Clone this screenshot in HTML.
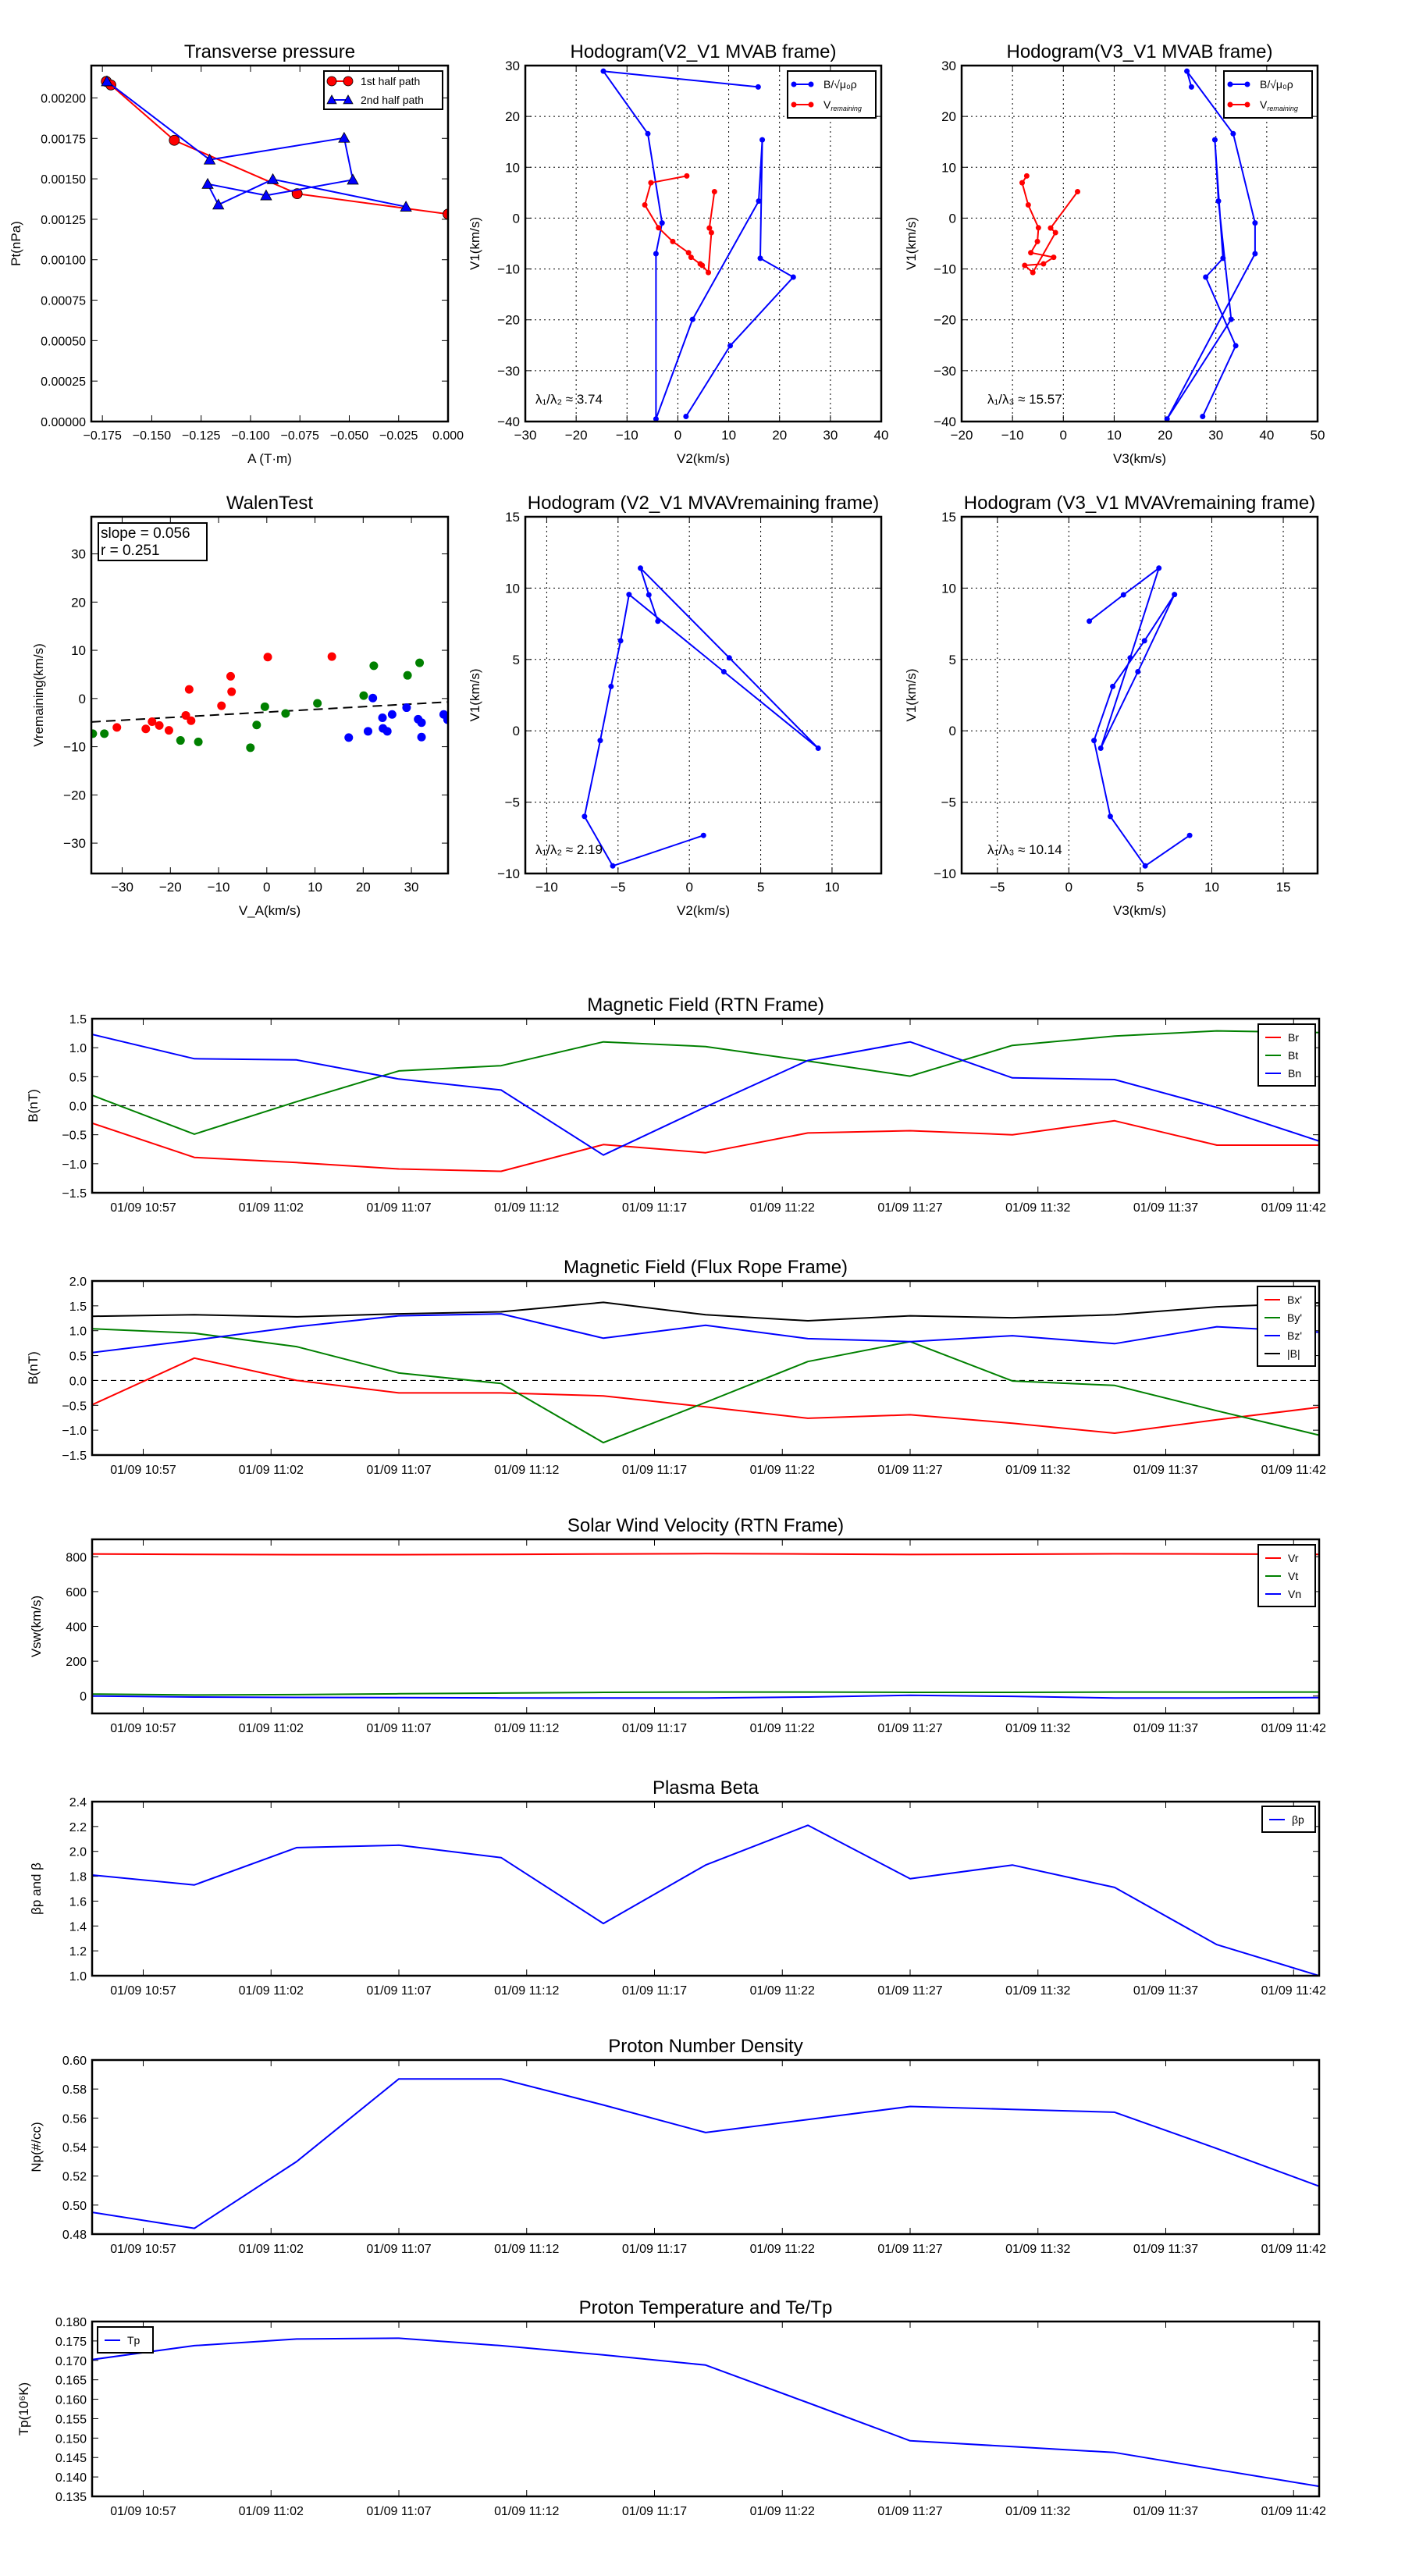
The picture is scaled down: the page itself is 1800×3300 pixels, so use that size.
<!DOCTYPE html>
<html><head><meta charset="utf-8"><style>
html,body{margin:0;padding:0;background:#fff;}
svg{display:block;}
</style></head><body>
<svg id="chart" width="1800" height="3300" xmlns="http://www.w3.org/2000/svg" font-family="'Liberation Sans', 'DejaVu Sans', sans-serif"></svg>
<script>
// ---------- data ----------
const presA1 = [-0.1730, -0.1707, -0.1386, -0.0764, 0.0];
const presP1 = [0.002102, 0.002080, 0.001738, 0.001408, 0.001282];
const presA2 = [-0.1727, -0.1207, -0.0526, -0.0482, -0.0921, -0.1217, -0.1163, -0.0887, -0.0213];
const presP2 = [0.002102, 0.001618, 0.001753, 0.001494, 0.001397, 0.001468, 0.001340, 0.001497, 0.001327];

const mvabV1B = [25.8, 28.9, 16.6, -0.95, -7.0, -39.5, -19.9, 3.35, 15.4, -7.9, -11.6, -25.1, -39.0];
const mvabV2B = [15.8, -14.65, -5.9, -3.1, -4.3, -4.3, 2.9, 15.9, 16.6, 16.2, 22.7, 10.3, 1.6];
const mvabV3B = [25.2, 24.3, 33.4, 37.7, 37.7, 20.4, 33.0, 30.5, 29.8, 31.4, 28.0, 33.9, 27.4];
const mvabV1R = [8.3, 6.95, 2.6, -1.9, -4.6, -6.8, -7.7, -9.0, -9.3, -10.7, -2.85, -1.95, 5.2];
const mvabV2R = [1.76, -5.3, -6.5, -3.8, -1.0, 2.1, 2.6, 4.4, 4.8, 6.0, 6.6, 6.2, 7.2];
const mvabV3R = [-7.2, -8.1, -6.9, -4.9, -5.1, -6.4, -1.9, -3.9, -7.6, -6.0, -1.55, -2.5, 2.8];

const mvavV1 = [7.68, 9.53, 11.4, 5.11, -1.22, 4.14, 9.55, 6.31, 3.11, -0.68, -6.0, -9.47, -7.33];
const mvavV2 = [-2.21, -2.84, -3.43, 2.80, 9.03, 2.42, -4.23, -4.82, -5.49, -6.25, -7.35, -5.37, 0.99];
const mvavV3 = [1.43, 3.82, 6.30, 4.29, 2.23, 4.83, 7.39, 5.29, 3.07, 1.76, 2.90, 5.34, 8.45];

const walRedX = [-31.1, -25.1, -23.8, -22.3, -20.3, -16.8, -16.1, -15.7, -9.4, -7.5, -7.3, 0.2, 13.5];
const walRedY = [-6.0, -6.3, -4.8, -5.6, -6.6, -3.5, 1.9, -4.6, -1.5, 4.6, 1.4, 8.6, 8.7];
const walGreenX = [-36.1, -33.7, -17.9, -14.2, -3.4, -2.1, -0.4, 3.9, 10.5, 20.1, 22.2, 29.2, 31.7];
const walGreenY = [-7.3, -7.3, -8.7, -9.0, -10.2, -5.5, -1.7, -3.1, -1.0, 0.6, 6.8, 4.8, 7.4];
const walBlueX = [17.0, 21.0, 22.0, 24.0, 24.1, 25.0, 26.0, 29.0, 31.4, 32.1, 32.1, 36.7, 37.5];
const walBlueY = [-8.1, -6.8, 0.1, -4.0, -6.2, -6.8, -3.3, -1.9, -4.3, -5.0, -8.0, -3.3, -4.4];
const walFit = [0.056, -2.82];

const times = ["10:55","10:59","11:03","11:07","11:11","11:15","11:19","11:23","11:27","11:31","11:35","11:39","11:43"];
const timeTicks = ["10:57","11:02","11:07","11:12","11:17","11:22","11:27","11:32","11:37","11:42"];

const Br = [-0.30, -0.89, -0.98, -1.09, -1.13, -0.67, -0.81, -0.47, -0.43, -0.50, -0.26, -0.68, -0.68];
const Bt = [0.18, -0.49, 0.07, 0.60, 0.69, 1.10, 1.02, 0.77, 0.51, 1.04, 1.20, 1.29, 1.26];
const Bn = [1.23, 0.81, 0.79, 0.46, 0.27, -0.85, -0.02, 0.78, 1.10, 0.48, 0.45, -0.03, -0.61];

const Bxp = [-0.49, 0.45, 0.0, -0.25, -0.25, -0.31, -0.53, -0.76, -0.69, -0.86, -1.06, -0.79, -0.54];
const Byp = [1.04, 0.95, 0.68, 0.15, -0.06, -1.25, -0.44, 0.38, 0.78, -0.01, -0.10, -0.61, -1.10];
const Bzp = [0.56, 0.81, 1.08, 1.30, 1.34, 0.85, 1.11, 0.84, 0.78, 0.90, 0.74, 1.08, 0.97];
const Bmag = [1.29, 1.32, 1.28, 1.34, 1.38, 1.57, 1.32, 1.20, 1.30, 1.26, 1.32, 1.48, 1.56];

const Vr = [816, 814, 812, 812, 814, 816, 818, 816, 813, 815, 817, 816, 814];
const Vt = [11, 6, 8, 13, 17, 21, 23, 23, 21, 21, 23, 23, 23];
const Vn = [0, -6, -8, -9, -11, -11, -11, -6, 4, -2, -11, -11, -9];

const betaP = [1.81, 1.73, 2.03, 2.05, 1.95, 1.42, 1.89, 2.21, 1.78, 1.89, 1.71, 1.25, 1.0];
const Np = [0.495, 0.484, 0.530, 0.587, 0.587, 0.569, 0.550, 0.559, 0.568, 0.566, 0.564, 0.539, 0.513];
const Tp = [0.1702, 0.1738, 0.1755, 0.1757, 0.1738, 0.1714, 0.1688, 0.1591, 0.1493, 0.1478, 0.1463, 0.1419, 0.1376];

// ---------- helpers ----------
const NS = "http://www.w3.org/2000/svg";
const svg = document.getElementById('chart');
let clipId = 0;
function mk(tag, name, attrs, parent) {
  const e = document.createElementNS(NS, tag);
  
  
  for (const k in attrs) e.setAttribute(k, attrs[k]);
  (parent || svg).appendChild(e);
  return e;
}
function txt(name, s, x, y, size, anchor, parent, rot) {
  const t = mk('text', name, {x: x, y: y, 'font-size': size, 'text-anchor': anchor || 'middle', fill: '#000'}, parent);
  if (rot) t.setAttribute('transform', 'rotate(' + rot + ' ' + x + ' ' + y + ')');
  t.textContent = s;
  return t;
}
function fmtMinus(s) { return String(s).replace(/-/g, '\u2212'); }
function toMin(s) { const p = s.split(':'); return (+p[0]) * 60 + (+p[1]) - (10 * 60 + 55); }

function axes(o) {
  const sx = v => o.x0 + (v - o.xd[0]) / (o.xd[1] - o.xd[0]) * (o.x1 - o.x0);
  const sy = v => o.y1 - (v - o.yd[0]) / (o.yd[1] - o.yd[0]) * (o.y1 - o.y0);
  const g = mk('g', o.name, {});
  const id = 'clip' + (clipId++);
  const cp = mk('clipPath', o.name + '-clip', {id: id}, g);
  mk('rect', o.name + '-clip-rect', {x: o.x0, y: o.y0, width: o.x1 - o.x0, height: o.y1 - o.y0}, cp);
  const fs = o.fs || 17;
  if (o.grid) {
    o.xticks.forEach(v => mk('line', 'x-grid-line', {x1: sx(v), x2: sx(v), y1: o.y0, y2: o.y1, stroke: '#000', 'stroke-width': 1, 'stroke-dasharray': '2,4'}, g));
    o.yticks.forEach(v => mk('line', 'y-grid-line', {x1: o.x0, x2: o.x1, y1: sy(v), y2: sy(v), stroke: '#000', 'stroke-width': 1, 'stroke-dasharray': '2,4'}, g));
  }
  o.xticks.forEach((v, i) => {
    const X = sx(v);
    mk('line', 'x-tick', {x1: X, x2: X, y1: o.y1, y2: o.y1 - 8, stroke: '#000', 'stroke-width': 1}, g);
    mk('line', 'x-tick-top', {x1: X, x2: X, y1: o.y0, y2: o.y0 + 8, stroke: '#000', 'stroke-width': 1}, g);
    txt('x-tick-label', o.xlabels[i], X, o.y1 + (o.xlOff || 23), fs, 'middle', g);
  });
  o.yticks.forEach((v, i) => {
    const Y = sy(v);
    mk('line', 'y-tick', {x1: o.x0, x2: o.x0 + 8, y1: Y, y2: Y, stroke: '#000', 'stroke-width': 1}, g);
    mk('line', 'y-tick-right', {x1: o.x1, x2: o.x1 - 8, y1: Y, y2: Y, stroke: '#000', 'stroke-width': 1}, g);
    txt('y-tick-label', o.ylabels[i], o.x0 - 7, Y + 6, fs, 'end', g);
  });
  if (o.title) txt('chart-title', o.title, (o.x0 + o.x1) / 2, o.y0 - 10, o.tfs || 24, 'middle', g);
  if (o.xlabel) txt('x-axis-title', o.xlabel, (o.x0 + o.x1) / 2, o.xlabY, 17, 'middle', g);
  if (o.ylabel) txt('y-axis-title', o.ylabel, o.ylabX, (o.y0 + o.y1) / 2, 17, 'middle', g, -90);
  const d = mk('g', o.name + '-data', {'clip-path': 'url(#' + id + ')'}, g);
  return {sx, sy, g, d, frame: () => mk('rect', o.name + '-frame', {x: o.x0, y: o.y0, width: o.x1 - o.x0, height: o.y1 - o.y0, fill: 'none', stroke: '#000', 'stroke-width': 2.5}, g)};
}
function polyline(ax, name, xs, ys, color, w, parent) {
  const pts = xs.map((x, i) => ax.sx(x).toFixed(1) + ',' + ax.sy(ys[i]).toFixed(1)).join(' ');
  return mk('polyline', name, {points: pts, fill: 'none', stroke: color, 'stroke-width': w || 2, 'stroke-linejoin': 'round'}, parent || ax.d);
}
function dots(ax, name, xs, ys, color, r, stroke) {
  xs.forEach((x, i) => {
    const c = mk('circle', name, {cx: ax.sx(x), cy: ax.sy(ys[i]), r: r, fill: color}, ax.d);
    if (stroke) { c.setAttribute('stroke', '#000'); c.setAttribute('stroke-width', 0.8); }
  });
}
function tri(parent, name, x, y, s, color) {
  return mk('polygon', name, {points: x + ',' + (y - s) + ' ' + (x - s) + ',' + (y + s * 0.8) + ' ' + (x + s) + ',' + (y + s * 0.8), fill: color, stroke: '#000', 'stroke-width': 0.8}, parent);
}

// ---------- Transverse pressure ----------
(function () {
  const ax = axes({name: 'transverse-pressure-chart', x0: 117, x1: 574, y0: 84, y1: 540, xd: [-0.1806, 0], yd: [0, 0.0022],
    xticks: [-0.175, -0.15, -0.125, -0.1, -0.075, -0.05, -0.025, 0], xlabels: ['−0.175','−0.150','−0.125','−0.100','−0.075','−0.050','−0.025','0.000'],
    yticks: [0, 0.00025, 0.0005, 0.00075, 0.001, 0.00125, 0.0015, 0.00175, 0.002], ylabels: ['0.00000','0.00025','0.00050','0.00075','0.00100','0.00125','0.00150','0.00175','0.00200'],
    title: 'Transverse pressure', xlabel: 'A (T·m)', xlabY: 593, ylabel: 'Pt(nPa)', ylabX: 26, fs: 16});
  polyline(ax, 'first-half-path-line', presA1, presP1, '#ff0000', 2);
  dots(ax, 'first-half-path-point', presA1, presP1, '#ff0000', 6.5, true);
  polyline(ax, 'second-half-path-line', presA2, presP2, '#0000ff', 2);
  presA2.forEach((a, i) => tri(ax.d, 'second-half-path-point', ax.sx(a), ax.sy(presP2[i]), 7, '#0000ff'));
  ax.frame();
  const lg = mk('g', 'pressure-legend', {});
  mk('rect', 'legend-box', {x: 415, y: 91, width: 152, height: 49, fill: '#fff', stroke: '#000', 'stroke-width': 2}, lg);
  mk('line', 'legend-line-red', {x1: 425, x2: 446, y1: 104, y2: 104, stroke: '#f00', 'stroke-width': 2}, lg);
  mk('circle', 'legend-marker', {cx: 425, cy: 104, r: 6, fill: '#f00', stroke: '#000', 'stroke-width': 0.8}, lg);
  mk('circle', 'legend-marker', {cx: 446, cy: 104, r: 6, fill: '#f00', stroke: '#000', 'stroke-width': 0.8}, lg);
  txt('legend-entry', '1st half path', 462, 109, 14, 'start', lg);
  mk('line', 'legend-line-blue', {x1: 425, x2: 446, y1: 128, y2: 128, stroke: '#00f', 'stroke-width': 2}, lg);
  tri(lg, 'legend-marker', 425, 128, 6, '#00f');
  tri(lg, 'legend-marker', 446, 128, 6, '#00f');
  txt('legend-entry', '2nd half path', 462, 133, 14, 'start', lg);
})();

function hodoLegend(x, name) {
  const lg = mk('g', name, {});
  mk('rect', 'legend-box', {x: x, y: 91, width: 113, height: 60, fill: '#fff', stroke: '#000', 'stroke-width': 2}, lg);
  mk('line', 'legend-line-blue', {x1: x + 8, x2: x + 30, y1: 108, y2: 108, stroke: '#00f', 'stroke-width': 2}, lg);
  mk('circle', 'legend-marker', {cx: x + 8, cy: 108, r: 3.5, fill: '#00f'}, lg);
  mk('circle', 'legend-marker', {cx: x + 30, cy: 108, r: 3.5, fill: '#00f'}, lg);
  txt('legend-entry', 'B/√μ₀ρ', x + 46, 113, 14, 'start', lg);
  mk('line', 'legend-line-red', {x1: x + 8, x2: x + 30, y1: 134, y2: 134, stroke: '#f00', 'stroke-width': 2}, lg);
  mk('circle', 'legend-marker', {cx: x + 8, cy: 134, r: 3.5, fill: '#f00'}, lg);
  mk('circle', 'legend-marker', {cx: x + 30, cy: 134, r: 3.5, fill: '#f00'}, lg);
  const t = txt('legend-entry', 'V', x + 46, 139, 14, 'start', lg);
  const s = document.createElementNS(NS, 'tspan');
  s.setAttribute('font-size', 9); s.setAttribute('font-style', 'italic'); s.setAttribute('dy', 3);
  s.textContent = 'remaining'; t.appendChild(s);
}

// ---------- Hodogram MVAB V2 ----------
(function () {
  const ax = axes({name: 'hodogram-v2-v1-mvab', x0: 673, x1: 1129, y0: 84, y1: 540, xd: [-30, 40], yd: [-40, 30], grid: true,
    xticks: [-30,-20,-10,0,10,20,30,40], xlabels: ['−30','−20','−10','0','10','20','30','40'],
    yticks: [-40,-30,-20,-10,0,10,20,30], ylabels: ['−40','−30','−20','−10','0','10','20','30'],
    title: 'Hodogram(V2_V1 MVAB frame)', xlabel: 'V2(km/s)', xlabY: 593, ylabel: 'V1(km/s)', ylabX: 614});
  polyline(ax, 'b-series-line', mvabV2B, mvabV1B, '#0000ff', 2);
  dots(ax, 'b-series-point', mvabV2B, mvabV1B, '#0000ff', 3.5);
  polyline(ax, 'v-remaining-line', mvabV2R, mvabV1R, '#ff0000', 2);
  dots(ax, 'v-remaining-point', mvabV2R, mvabV1R, '#ff0000', 3.5);
  ax.frame();
  txt('eigenvalue-ratio', 'λ₁/λ₂ ≈ 3.74', 686, 517, 17, 'start');
  hodoLegend(1009, 'hodogram-mvab-v2-legend');
})();

// ---------- Hodogram MVAB V3 ----------
(function () {
  const ax = axes({name: 'hodogram-v3-v1-mvab', x0: 1232, x1: 1688, y0: 84, y1: 540, xd: [-20, 50], yd: [-40, 30], grid: true,
    xticks: [-20,-10,0,10,20,30,40,50], xlabels: ['−20','−10','0','10','20','30','40','50'],
    yticks: [-40,-30,-20,-10,0,10,20,30], ylabels: ['−40','−30','−20','−10','0','10','20','30'],
    title: 'Hodogram(V3_V1 MVAB frame)', xlabel: 'V3(km/s)', xlabY: 593, ylabel: 'V1(km/s)', ylabX: 1173});
  polyline(ax, 'b-series-line', mvabV3B, mvabV1B, '#0000ff', 2);
  dots(ax, 'b-series-point', mvabV3B, mvabV1B, '#0000ff', 3.5);
  polyline(ax, 'v-remaining-line', mvabV3R, mvabV1R, '#ff0000', 2);
  dots(ax, 'v-remaining-point', mvabV3R, mvabV1R, '#ff0000', 3.5);
  ax.frame();
  txt('eigenvalue-ratio', 'λ₁/λ₃ ≈ 15.57', 1265, 517, 17, 'start');
  hodoLegend(1568, 'hodogram-mvab-v3-legend');
})();

// ---------- Walen test ----------
(function () {
  const ax = axes({name: 'walen-test-chart', x0: 117, x1: 574, y0: 662, y1: 1119, xd: [-36.4, 37.6], yd: [-36.3, 37.7],
    xticks: [-30,-20,-10,0,10,20,30], xlabels: ['−30','−20','−10','0','10','20','30'],
    yticks: [-30,-20,-10,0,10,20,30], ylabels: ['−30','−20','−10','0','10','20','30'],
    title: 'WalenTest', xlabel: 'V_A(km/s)', xlabY: 1172, ylabel: 'Vremaining(km/s)', ylabX: 55, fs: 17});
  const fx = [-36.4, 37.6];
  const fy = fx.map(x => walFit[0] * x + walFit[1]);
  mk('line', 'regression-line', {x1: ax.sx(fx[0]), y1: ax.sy(fy[0]), x2: ax.sx(fx[1]), y2: ax.sy(fy[1]), stroke: '#000', 'stroke-width': 2, 'stroke-dasharray': '12,7'}, ax.d);
  dots(ax, 'walen-point-red', walRedX, walRedY, '#ff0000', 5.5);
  dots(ax, 'walen-point-green', walGreenX, walGreenY, '#008000', 5.5);
  dots(ax, 'walen-point-blue', walBlueX, walBlueY, '#0000ff', 5.5);
  ax.frame();
  mk('rect', 'stats-box', {x: 126, y: 670, width: 139, height: 48, fill: '#fff', stroke: '#000', 'stroke-width': 2});
  txt('slope-text', 'slope = 0.056', 129, 689, 19, 'start');
  txt('r-text', 'r = 0.251', 129, 711, 19, 'start');
})();

// ---------- Hodogram MVAV ----------
(function () {
  const ax = axes({name: 'hodogram-v2-v1-mvav', x0: 673, x1: 1129, y0: 662, y1: 1119, xd: [-11.5, 13.45], yd: [-10, 15], grid: true,
    xticks: [-10,-5,0,5,10], xlabels: ['−10','−5','0','5','10'],
    yticks: [-10,-5,0,5,10,15], ylabels: ['−10','−5','0','5','10','15'],
    title: 'Hodogram (V2_V1 MVAVremaining frame)', xlabel: 'V2(km/s)', xlabY: 1172, ylabel: 'V1(km/s)', ylabX: 614});
  polyline(ax, 'mvav-line', mvavV2, mvavV1, '#0000ff', 2);
  dots(ax, 'mvav-point', mvavV2, mvavV1, '#0000ff', 3.5);
  ax.frame();
  txt('eigenvalue-ratio', 'λ₁/λ₂ ≈ 2.19', 686, 1094, 17, 'start');
})();
(function () {
  const ax = axes({name: 'hodogram-v3-v1-mvav', x0: 1232, x1: 1688, y0: 662, y1: 1119, xd: [-7.5, 17.4], yd: [-10, 15], grid: true,
    xticks: [-5,0,5,10,15], xlabels: ['−5','0','5','10','15'],
    yticks: [-10,-5,0,5,10,15], ylabels: ['−10','−5','0','5','10','15'],
    title: 'Hodogram (V3_V1 MVAVremaining frame)', xlabel: 'V3(km/s)', xlabY: 1172, ylabel: 'V1(km/s)', ylabX: 1173});
  polyline(ax, 'mvav-line', mvavV3, mvavV1, '#0000ff', 2);
  dots(ax, 'mvav-point', mvavV3, mvavV1, '#0000ff', 3.5);
  ax.frame();
  txt('eigenvalue-ratio', 'λ₁/λ₃ ≈ 10.14', 1265, 1094, 17, 'start');
})();

// ---------- time series ----------
const tMin = times.map(toMin);
const tickMin = timeTicks.map(toMin);
function tsAxes(name, y0, y1, yd, yticks, ylabels, title, ylabel, ylabX) {
  return axes({name: name, x0: 118, x1: 1690, y0: y0, y1: y1, xd: [0, 48], yd: yd,
    xticks: tickMin, xlabels: timeTicks.map(t => '01/09 ' + t), xlOff: 24,
    yticks: yticks, ylabels: ylabels, title: title, ylabel: ylabel, ylabX: ylabX, fs: 16});
}
function tsLegend(name, x, y, w, entries) {
  const lg = mk('g', name, {});
  mk('rect', 'legend-box', {x: x, y: y, width: w, height: entries.length * 23 + 10, fill: '#fff', stroke: '#000', 'stroke-width': 2}, lg);
  entries.forEach((e, i) => {
    const yy = y + 17 + i * 23;
    mk('line', 'legend-line', {x1: x + 9, x2: x + 29, y1: yy, y2: yy, stroke: e[1], 'stroke-width': 2}, lg);
    txt('legend-entry', e[0], x + 38, yy + 5, 14, 'start', lg);
  });
}
(function () {
  const ax = tsAxes('magnetic-field-rtn-chart', 1305, 1528, [-1.5, 1.5], [-1.5,-1,-0.5,0,0.5,1,1.5], ['−1.5','−1.0','−0.5','0.0','0.5','1.0','1.5'], 'Magnetic Field (RTN Frame)', 'B(nT)', 48);
  mk('line', 'zero-line', {x1: ax.sx(0), x2: ax.sx(48), y1: ax.sy(0), y2: ax.sy(0), stroke: '#000', 'stroke-width': 1.2, 'stroke-dasharray': '7,5'}, ax.d);
  polyline(ax, 'br-line', tMin, Br, '#ff0000', 2);
  polyline(ax, 'bt-line', tMin, Bt, '#008000', 2);
  polyline(ax, 'bn-line', tMin, Bn, '#0000ff', 2);
  ax.frame();
  tsLegend('rtn-legend', 1612, 1312, 73, [['Br', '#f00'], ['Bt', '#008000'], ['Bn', '#00f']]);
})();
(function () {
  const ax = tsAxes('magnetic-field-flux-rope-chart', 1641, 1864, [-1.5, 2.0], [-1.5,-1,-0.5,0,0.5,1,1.5,2], ['−1.5','−1.0','−0.5','0.0','0.5','1.0','1.5','2.0'], 'Magnetic Field (Flux Rope Frame)', 'B(nT)', 48);
  mk('line', 'zero-line', {x1: ax.sx(0), x2: ax.sx(48), y1: ax.sy(0), y2: ax.sy(0), stroke: '#000', 'stroke-width': 1.2, 'stroke-dasharray': '7,5'}, ax.d);
  polyline(ax, 'bx-prime-line', tMin, Bxp, '#ff0000', 2);
  polyline(ax, 'by-prime-line', tMin, Byp, '#008000', 2);
  polyline(ax, 'bz-prime-line', tMin, Bzp, '#0000ff', 2);
  polyline(ax, 'b-magnitude-line', tMin, Bmag, '#000000', 2);
  ax.frame();
  tsLegend('flux-rope-legend', 1611, 1648, 74, [["Bx'", '#f00'], ["By'", '#008000'], ["Bz'", '#00f'], ['|B|', '#000']]);
})();
(function () {
  const ax = tsAxes('solar-wind-velocity-chart', 1972, 2195, [-100, 900], [0,200,400,600,800], ['0','200','400','600','800'], 'Solar Wind Velocity (RTN Frame)', 'Vsw(km/s)', 52);
  polyline(ax, 'vr-line', tMin, Vr, '#ff0000', 2);
  polyline(ax, 'vt-line', tMin, Vt, '#008000', 2);
  polyline(ax, 'vn-line', tMin, Vn, '#0000ff', 2);
  ax.frame();
  tsLegend('velocity-legend', 1612, 1979, 73, [['Vr', '#f00'], ['Vt', '#008000'], ['Vn', '#00f']]);
})();
(function () {
  const ax = tsAxes('plasma-beta-chart', 2308, 2531, [1.0, 2.4], [1.0,1.2,1.4,1.6,1.8,2.0,2.2,2.4], ['1.0','1.2','1.4','1.6','1.8','2.0','2.2','2.4'], 'Plasma Beta', 'βp and β', 52);
  polyline(ax, 'beta-p-line', tMin, betaP, '#0000ff', 2);
  ax.frame();
  tsLegend('beta-legend', 1617, 2314, 68, [['βp', '#00f']]);
})();
(function () {
  const ax = tsAxes('proton-density-chart', 2639, 2862, [0.48, 0.60], [0.48,0.50,0.52,0.54,0.56,0.58,0.60], ['0.48','0.50','0.52','0.54','0.56','0.58','0.60'], 'Proton Number Density', 'Np(#/cc)', 52);
  polyline(ax, 'np-line', tMin, Np, '#0000ff', 2);
  ax.frame();
})();
(function () {
  const ax = tsAxes('proton-temperature-chart', 2974, 3198, [0.135, 0.180], [0.135,0.14,0.145,0.15,0.155,0.16,0.165,0.17,0.175,0.18], ['0.135','0.140','0.145','0.150','0.155','0.160','0.165','0.170','0.175','0.180'], 'Proton Temperature and Te/Tp', 'Tp(10⁶K)', 36);
  polyline(ax, 'tp-line', tMin, Tp, '#0000ff', 2);
  ax.frame();
  tsLegend('tp-legend', 125, 2981, 71, [['Tp', '#00f']]);
})();
</script>
</body></html>
